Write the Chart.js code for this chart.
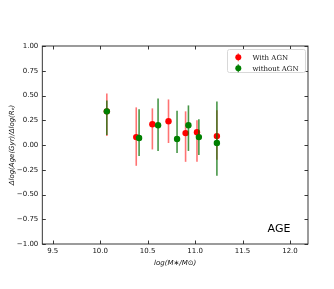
<!DOCTYPE html>
<html>
<head>
<meta charset="utf-8">
<script src="https://cdn.jsdelivr.net/npm/chart.js@4.4.0/dist/chart.umd.min.js"></script>
<style>
  html, body { margin: 0; padding: 0; background: #fff; }
  #wrap { width: 334px; height: 289px; }
</style>
</head>
<body>
<div id="wrap"><canvas id="ageChart"></canvas></div>
<script>
//------ Data ------//
const massAgn  = [10.07, 10.38, 10.55, 10.72, 10.90, 11.02, 11.23];
const ageAgn   = [0.34, 0.08, 0.21, 0.24, 0.12, 0.13, 0.09];
const loAgn    = [0.09, -0.21, -0.045, 0.02, -0.17, -0.17, -0.15];
const hiAgn    = [0.52, 0.38, 0.37, 0.46, 0.34, 0.25, 0.35];

const massNoAgn = [10.07, 10.41, 10.61, 10.81, 10.93, 11.04, 11.23];
const ageNoAgn  = [0.34, 0.07, 0.20, 0.06, 0.20, 0.08, 0.02];
const loNoAgn   = [0.10, -0.11, -0.06, -0.08, -0.06, -0.10, -0.31];
const hiNoAgn   = [0.45, 0.36, 0.47, 0.345, 0.40, 0.26, 0.44];

const xTicks = [9.5, 10.0, 10.5, 11.0, 11.5, 12.0];
const yTicks = [-1.0, -0.75, -0.5, -0.25, 0.0, 0.25, 0.5, 0.75, 1.0];

const tickFont = { family: 'DejaVu Sans', size: 7 };
const axisColor = '#222';

function toPoints(xs, ys, lo, hi) {
  return xs.map((x, i) => ({ x: x, y: ys[i], lo: lo[i], hi: hi[i] }));
}

//------ Error bars, drawn under each dataset's markers ------//
const errorBars = {
  id: 'errorBars',
  beforeDatasetDraw(chart, args) {
    const ds = chart.data.datasets[args.index];
    const { ctx, scales: { x, y } } = chart;
    ctx.save();
    ctx.strokeStyle = ds.errColor;
    ctx.lineWidth = 1.6;
    ds.data.forEach(p => {
      const px = x.getPixelForValue(p.x);
      ctx.beginPath();
      ctx.moveTo(px, y.getPixelForValue(p.lo));
      ctx.lineTo(px, y.getPixelForValue(p.hi));
      ctx.stroke();
    });
    ctx.restore();
  }
};

//------ Frame, inward ticks, legend box and label ------//
const decorations = {
  id: 'decorations',
  afterDraw(chart) {
    const { ctx, chartArea: a, scales: { x, y } } = chart;
    ctx.save();
    ctx.strokeStyle = axisColor;
    ctx.lineWidth = 0.9;
    ctx.strokeRect(a.left, a.top, a.right - a.left, a.bottom - a.top);

    // inward ticks on all four sides
    const len = 3.5;
    ctx.beginPath();
    xTicks.forEach(v => {
      const px = Math.round(x.getPixelForValue(v)) + 0.5;
      ctx.moveTo(px, a.bottom); ctx.lineTo(px, a.bottom - len);
      ctx.moveTo(px, a.top); ctx.lineTo(px, a.top + len);
    });
    yTicks.forEach(v => {
      const py = Math.round(y.getPixelForValue(v)) + 0.5;
      ctx.moveTo(a.left, py); ctx.lineTo(a.left + len, py);
      ctx.moveTo(a.right, py); ctx.lineTo(a.right - len, py);
    });
    ctx.stroke();

    // legend (upper right, inside the axes)
    const lx = 227.5, ly = 49.5, lw = 78, lh = 23;
    ctx.fillStyle = 'rgba(255,255,255,0.85)';
    ctx.strokeStyle = '#d8d8d8';
    ctx.lineWidth = 1;
    ctx.beginPath();
    ctx.roundRect(lx, ly, lw, lh, 2);
    ctx.fill();
    ctx.stroke();

    const items = [
      { label: 'With AGN', color: '#ff0000', err: 'rgba(255,0,0,0.55)' },
      { label: 'without AGN', color: '#008000', err: 'rgba(0,110,0,0.7)' }
    ];
    ctx.font = '7px "DejaVu Serif"';
    ctx.textBaseline = 'middle';
    items.forEach((it, i) => {
      const cy = 57.3 + i * 11;
      ctx.strokeStyle = it.err;
      ctx.lineWidth = 1.4;
      ctx.beginPath();
      ctx.moveTo(238.3, cy - 4);
      ctx.lineTo(238.3, cy + 4);
      ctx.stroke();
      ctx.fillStyle = it.color;
      ctx.beginPath();
      ctx.arc(238.3, cy, 3, 0, Math.PI * 2);
      ctx.fill();
      ctx.fillStyle = '#111';
      ctx.fillText(it.label, 252.5, cy + 0.5);
    });

    // panel label
    ctx.font = '11px "DejaVu Sans"';
    ctx.fillStyle = '#000';
    ctx.textAlign = 'center';
    ctx.fillText('AGE', 279, 229.5);
    ctx.restore();
  }
};

//------ Chart ------//
const ageChart = new Chart(document.getElementById('ageChart'), {
  type: 'scatter',
  data: {
    datasets: [{
      label: 'With AGN',
      data: toPoints(massAgn, ageAgn, loAgn, hiAgn),
      backgroundColor: '#ff0000',
      borderWidth: 0,
      pointRadius: 3.2,
      order: 2,
      errColor: 'rgba(255,0,0,0.55)'
    }, {
      label: 'without AGN',
      data: toPoints(massNoAgn, ageNoAgn, loNoAgn, hiNoAgn),
      backgroundColor: '#008000',
      borderWidth: 0,
      pointRadius: 3.2,
      order: 1,
      errColor: 'rgba(0,110,0,0.72)'
    }]
  },
  options: {
    responsive: true,
    maintainAspectRatio: false,
    animation: false,
    layout: { padding: { left: 0, right: 26, top: 46, bottom: 19 } },
    plugins: {
      legend: { display: false },
      tooltip: { enabled: false }
    },
    scales: {
      x: {
        type: 'linear',
        min: 9.39,
        max: 12.19,
        afterFit: s => { s.height = 26; },
        afterBuildTicks: s => { s.ticks = xTicks.map(v => ({ value: v })); },
        grid: { display: false, drawTicks: false },
        border: { display: false },
        ticks: {
          font: tickFont,
          color: '#111',
          padding: 3,
          maxRotation: 0,
          callback: v => v.toFixed(1)
        },
        title: {
          display: true,
          text: 'log(M∗/M⊙)',
          font: { family: 'DejaVu Sans', size: 7, style: 'italic' },
          color: '#111',
          padding: { top: 0, bottom: 3 }
        }
      },
      y: {
        type: 'linear',
        min: -1,
        max: 1,
        afterFit: s => { s.width = 42.3; },
        afterBuildTicks: s => { s.ticks = yTicks.map(v => ({ value: v })); },
        grid: { display: false, drawTicks: false },
        border: { display: false },
        ticks: {
          font: tickFont,
          color: '#111',
          padding: 4,
          callback: v => (v < 0 ? '\u2212' : '') + Math.abs(v).toFixed(2)
        },
        title: {
          display: true,
          text: 'Δlog(Age(Gyr)/Δlog(Rₑ)',
          font: { family: 'DejaVu Sans', size: 7, style: 'italic' },
          color: '#111',
          padding: { top: 8, bottom: 0 }
        }
      }
    }
  },
  plugins: [errorBars, decorations]
});
</script>
</body>
</html>
